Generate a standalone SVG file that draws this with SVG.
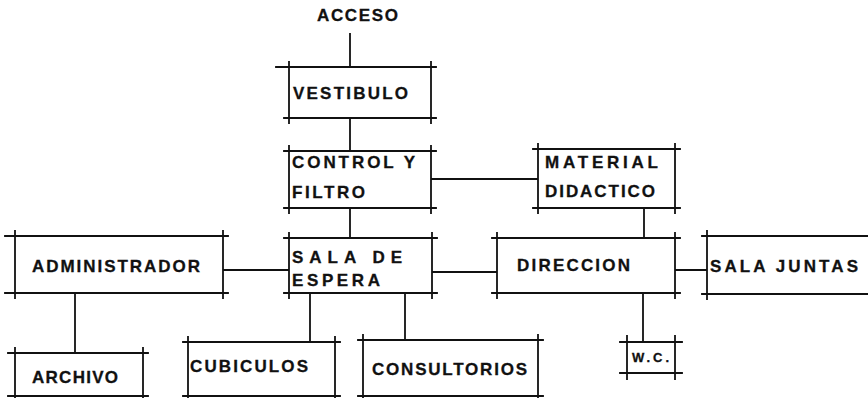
<svg xmlns="http://www.w3.org/2000/svg" width="868" height="398" viewBox="0 0 868 398">
<style>
.b{fill:none;stroke:#111;stroke-width:1.8;stroke-linecap:square}
.c{fill:none;stroke:#111;stroke-width:1.8}
text{font-family:"Liberation Sans",Arial,sans-serif;font-weight:bold;font-size:17px;fill:#111;stroke:#111;stroke-width:0.3}
.s{font-size:13px}
</style>
<rect width="868" height="398" fill="#fff"/>
<g id="connectors">
<path class="c" d="M350 33V67M350 118V151M431 179H538M350 208V238M644 208V238M432 272H497M675 270H707M223 270H289M75 293V353M310 293V342M405 293V340M643 293V342"/>
</g>
<g id="acceso"><text x="317" y="21" textLength="81" lengthAdjust="spacing">ACCESO</text></g>
<g id="vestibulo"><path class="b" d="M276 67H436M284 118H436M289 62V123M431 62V123"/><text x="293" y="99" textLength="115" lengthAdjust="spacing">VESTIBULO</text></g>
<g id="control"><path class="b" d="M284 151H436M284 208H436M289 146V213M431 146V213"/><text x="292" y="168" textLength="123" lengthAdjust="spacing">CONTROL Y</text><text x="292" y="198" textLength="73" lengthAdjust="spacing">FILTRO</text></g>
<g id="material"><path class="b" d="M533 149H680M533 208H680M538 144V213M675 144V213"/><text x="545" y="168" textLength="113" lengthAdjust="spacing">MATERIAL</text><text x="545" y="197" textLength="110" lengthAdjust="spacing">DIDACTICO</text></g>
<g id="sala"><path class="b" d="M284 238H437M284 293H437M289 233V298M432 233V298"/><text x="292" y="263" textLength="110" lengthAdjust="spacing">SALA  DE</text><text x="292" y="286" textLength="88" lengthAdjust="spacing">ESPERA</text></g>
<g id="direccion"><path class="b" d="M492 238H680M492 293H680M497 233V298M675 233V298"/><text x="517" y="271" textLength="113" lengthAdjust="spacing">DIRECCION</text></g>
<g id="juntas"><path class="b" d="M702 236H870M702 294H870M707 231V299"/><text x="710" y="272" textLength="148" lengthAdjust="spacing">SALA  JUNTAS</text></g>
<g id="admin"><path class="b" d="M5 236H228M5 293H228M15 231V298M223 231V298"/><text x="32" y="272" textLength="168" lengthAdjust="spacing">ADMINISTRADOR</text></g>
<g id="archivo"><path class="b" d="M8 353H148M8 396H148M15 348V398M143 348V398"/><text x="32" y="383" textLength="86" lengthAdjust="spacing">ARCHIVO</text></g>
<g id="cubiculos"><path class="b" d="M183 342H340M183 396H340M188 337V398M335 337V398"/><text x="190" y="372" textLength="118" lengthAdjust="spacing">CUBICULOS</text></g>
<g id="consultorios"><path class="b" d="M358 340H543M358 396H543M363 335V398M538 335V398"/><text x="372" y="375" textLength="155" lengthAdjust="spacing">CONSULTORIOS</text></g>
<g id="wc"><path class="b" d="M620 342H682M620 373H682M627 336V379M675 336V379"/><text class="s" x="632" y="362" textLength="37" lengthAdjust="spacing">W.C.</text></g>
</svg>
